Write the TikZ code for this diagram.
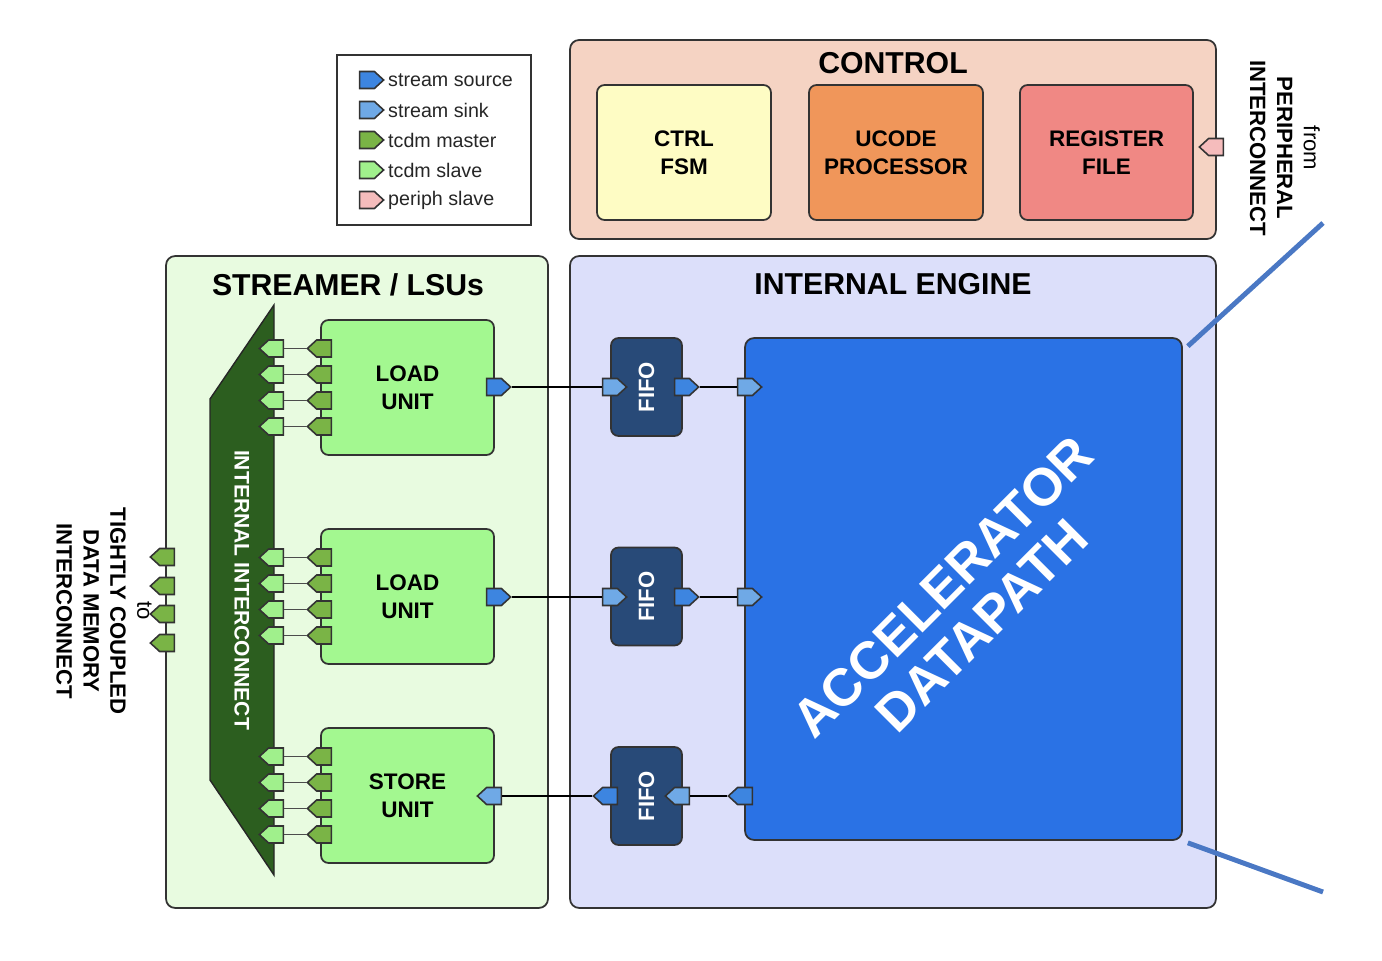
\documentclass[tikz,border=0pt]{standalone}
\usepackage{fontspec}
\setmainfont{Liberation Sans}
\usetikzlibrary{shapes.symbols}

\definecolor{ctrlbg}{HTML}{F5D3C3}
\definecolor{fsmfill}{HTML}{FEFCC4}
\definecolor{ucodefill}{HTML}{F0965A}
\definecolor{regfill}{HTML}{F08884}
\definecolor{strbg}{HTML}{E8FBE0}
\definecolor{unitfill}{HTML}{A3F890}
\definecolor{icfill}{HTML}{2C5E1F}
\definecolor{engbg}{HTML}{DCDFFA}
\definecolor{fifofill}{HTML}{284A78}
\definecolor{dpfill}{HTML}{2A72E5}
\definecolor{zoomblue}{HTML}{4A78C4}
\definecolor{strsrc}{HTML}{3D85E0}
\definecolor{strsnk}{HTML}{6FA9E6}
\definecolor{tcdmmst}{HTML}{7AB446}
\definecolor{tcdmslv}{HTML}{A0F08C}
\definecolor{perslv}{HTML}{F5BCBC}

\tikzset{
  bigbox/.style={draw=black!80, line width=1pt, rounded corners=0.18cm},
  block/.style={draw=black!80, line width=1pt, rounded corners=0.15cm, align=center,
    font=\bfseries\fontsize{12.8}{15.9}\selectfont},
  boxtitle/.style={font=\bfseries\fontsize{17.2}{20}\selectfont},
  port/.style={signal, draw=black!80, line width=0.9pt, minimum width=0.48cm,
    minimum height=0.34cm, inner sep=0pt, signal pointer angle=85},
  portR/.style={port, signal to=east},
  portL/.style={port, signal to=west},
  stream/.style={draw=black, line width=1.3pt},
  tcdm/.style={draw=black!70, line width=1pt},
  zoomline/.style={draw=zoomblue, line width=2.8pt},
  sidelabel/.style={rotate=-90, align=center, font=\fontsize{12.6}{15.3}\selectfont},
  legtext/.style={anchor=west, font=\fontsize{11.2}{13}\selectfont, text=black!85},
}

\begin{document}
\begin{tikzpicture}[x=0.02cm, y=-0.02cm, >=stealth]
\useasboundingbox (0,0) rectangle (1382,960);

% legend
\node[draw=black!80, line width=1pt, minimum width=3.88cm, minimum height=3.4cm] (legend) at (434,140) {};
\foreach \k/\c/\t in {0/strsrc/stream source,1/strsnk/stream sink,2/tcdmmst/tcdm master,3/tcdmslv/tcdm slave,4/perslv/periph slave}{
  \node[portR, fill=\c] (leg\k) at (367,80+30*\k) {};
  \node[legtext] (legt\k) at (382,80+30*\k) {\t};
}

% control
\node[bigbox, fill=ctrlbg, minimum width=12.92cm, minimum height=3.98cm] (ctrl) at (893,139.5) {};
\node[boxtitle] (ctrltitle) at (893,63) {CONTROL};
\node[block, fill=fsmfill, minimum width=3.48cm, minimum height=2.7cm] (fsm) at (684,152.5) {CTRL\\FSM};
\node[block, fill=ucodefill, minimum width=3.48cm, minimum height=2.7cm] (ucode) at (896,152.5) {UCODE\\PROCESSOR};
\node[block, fill=regfill, minimum width=3.46cm, minimum height=2.7cm] (regfile) at (1106.5,152.5) {REGISTER\\FILE};
\node[portL, fill=perslv] (perport) at (1216,147) {};
\node[sidelabel] (perlabel) at (1285,148) {from\\\textbf{PERIPHERAL}\\\textbf{INTERCONNECT}};

% streamer
\node[bigbox, fill=strbg, minimum width=7.64cm, minimum height=13.04cm] (streamer) at (357,582) {};
\node[boxtitle] (strtitle) at (348,285) {STREAMER / LSUs};
\draw[draw=black!85, line width=0.8pt, fill=icfill] (274,305) -- (274,875) -- (210,780) -- (210,399) -- cycle;
\node[rotate=-90, text=white, font=\bfseries\fontsize{12}{14}\selectfont] (ictext) at (242,590) {INTERNAL INTERCONNECT};
\node[block, fill=unitfill, minimum width=3.46cm, minimum height=2.7cm] (lua) at (407.5,387.5) {LOAD\\UNIT};
\node[block, fill=unitfill, minimum width=3.46cm, minimum height=2.7cm] (lub) at (407.5,596.5) {LOAD\\UNIT};
\node[block, fill=unitfill, minimum width=3.46cm, minimum height=2.7cm] (suc) at (407.5,795.5) {STORE\\UNIT};
\foreach \u/\c in {a/387.5,b/596.5,c/795.5}{
  \foreach \k/\d in {1/-39,2/-13,3/13,4/39}{
    \node[portL, fill=tcdmmst] (m\u\k) at (324,\c+\d) {};
    \node[portL, fill=tcdmslv] (s\u\k) at (276,\c+\d) {};
    \draw[tcdm] (m\u\k.west) -- (s\u\k.east);
  }
}
\foreach \k/\y in {1/557,2/586,3/614,4/643}
  \node[portL, fill=tcdmmst] (ext\k) at (167,\y) {};
\node[sidelabel] (extlabel) at (104,611) {to\\\textbf{TIGHTLY COUPLED}\\\textbf{DATA MEMORY}\\\textbf{INTERCONNECT}};

% internal engine
\node[bigbox, fill=engbg, minimum width=12.92cm, minimum height=13.04cm] (engine) at (893,582) {};
\node[boxtitle] (engtitle) at (893,284) {INTERNAL ENGINE};
\node[bigbox, fill=dpfill, minimum width=8.74cm, minimum height=10.04cm] (dp) at (963.5,589) {};
\node[rotate=45, text=white, align=center, font=\bfseries\fontsize{30}{31}\selectfont] (dptext) at (962,606) {ACCELERATOR\\DATAPATH};
\foreach \k/\y in {1/387,2/596.5,3/796}
  \node[block, fill=fifofill, minimum width=1.42cm, minimum height=1.96cm] (fifo\k) at (646.5,\y) {};
\foreach \k in {1,2,3}
  \node[rotate=90, text=white, font=\bfseries\fontsize{12.6}{15}\selectfont] (fifot\k) at (fifo\k) {FIFO};

% stream ports
\node[portR, fill=strsrc] (luaout) at (494,387) {};
\node[portR, fill=strsnk] (fifo1in) at (610,387) {};
\node[portR, fill=strsrc] (fifo1out) at (682,387) {};
\node[portR, fill=strsnk] (dpin1) at (745,387) {};
\node[portR, fill=strsrc] (lubout) at (494,597) {};
\node[portR, fill=strsnk] (fifo2in) at (610,597) {};
\node[portR, fill=strsrc] (fifo2out) at (682,597) {};
\node[portR, fill=strsnk] (dpin2) at (745,597) {};
\node[portL, fill=strsrc] (dpout) at (745,796) {};
\node[portL, fill=strsnk] (fifo3in) at (682,796) {};
\node[portL, fill=strsrc] (fifo3out) at (610,796) {};
\node[portL, fill=strsnk] (sucin) at (494,796) {};
\draw[stream] (luaout.east) -- (fifo1in.west);
\draw[stream] (fifo1out.east) -- (dpin1.west);
\draw[stream] (lubout.east) -- (fifo2in.west);
\draw[stream] (fifo2out.east) -- (dpin2.west);
\draw[stream] (dpout.west) -- (fifo3in.east);
\draw[stream] (fifo3out.west) -- (sucin.east);

% zoom lines
\coordinate (zoomtop) at (1323,223);
\coordinate (zoombot) at (1323,892);
\draw[zoomline] (dp.north east) ++(5,9) -- (zoomtop);
\draw[zoomline] (dp.south east) ++(5,2) -- (zoombot);
\end{tikzpicture}
\end{document}
